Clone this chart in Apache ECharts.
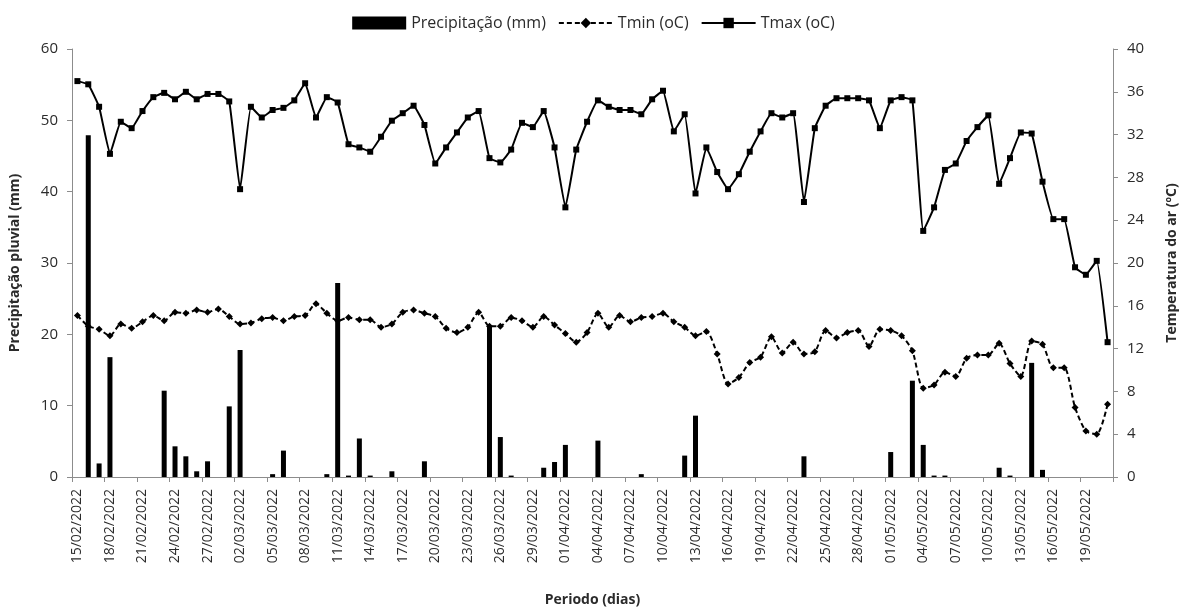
<!DOCTYPE html>
<html>
<head>
<meta charset="utf-8">
<script src="https://cdn.jsdelivr.net/npm/echarts@6/dist/echarts.min.js"></script>
<style>html,body{margin:0;padding:0;background:#fff;}#c{width:1187px;height:613px;}</style>
</head>
<body>
<div id="c"></div>
<script>
const dates = [
"15/02/2022","16/02/2022","17/02/2022","18/02/2022","19/02/2022","20/02/2022","21/02/2022","22/02/2022","23/02/2022","24/02/2022","25/02/2022","26/02/2022","27/02/2022","28/02/2022",
"01/03/2022","02/03/2022","03/03/2022","04/03/2022","05/03/2022","06/03/2022","07/03/2022","08/03/2022","09/03/2022","10/03/2022","11/03/2022","12/03/2022","13/03/2022","14/03/2022","15/03/2022","16/03/2022","17/03/2022","18/03/2022","19/03/2022","20/03/2022","21/03/2022","22/03/2022","23/03/2022","24/03/2022","25/03/2022","26/03/2022","27/03/2022","28/03/2022","29/03/2022","30/03/2022","31/03/2022",
"01/04/2022","02/04/2022","03/04/2022","04/04/2022","05/04/2022","06/04/2022","07/04/2022","08/04/2022","09/04/2022","10/04/2022","11/04/2022","12/04/2022","13/04/2022","14/04/2022","15/04/2022","16/04/2022","17/04/2022","18/04/2022","19/04/2022","20/04/2022","21/04/2022","22/04/2022","23/04/2022","24/04/2022","25/04/2022","26/04/2022","27/04/2022","28/04/2022","29/04/2022","30/04/2022",
"01/05/2022","02/05/2022","03/05/2022","04/05/2022","05/05/2022","06/05/2022","07/05/2022","08/05/2022","09/05/2022","10/05/2022","11/05/2022","12/05/2022","13/05/2022","14/05/2022","15/05/2022","16/05/2022","17/05/2022","18/05/2022","19/05/2022","20/05/2022","21/05/2022"
];

const precip = [
0,47.9,1.9,16.8,0,0,0,0,12.1,4.3,2.9,0.8,2.2,0,9.9,17.8,0,0,0.4,3.7,
0,0,0,0.4,27.2,0.2,5.4,0.2,0,0.8,0,0,2.2,0,0,0,0,0,21.1,5.6,
0.2,0,0,1.3,2.1,4.5,0,0,5.1,0,0,0,0.4,0,0,0,3.0,8.6,0,0,
0,0,0,0,0,0,0,2.9,0,0,0,0,0,0,0,3.5,0,13.5,4.5,0.2,
0.2,0,0,0,0,1.3,0.2,0,16.0,1.0,0,0,0,0,0,0
];

const tmin = [
15.1,14.1,13.8,13.2,14.3,13.9,14.5,15.1,14.6,15.4,15.3,15.6,15.4,15.7,15.0,14.3,14.4,14.8,14.9,14.6,
15.0,15.1,16.2,15.3,14.6,14.9,14.7,14.7,14.0,14.3,15.4,15.6,15.3,15.0,13.9,13.5,14.0,15.4,14.1,14.1,
14.9,14.6,14.0,15.0,14.2,13.4,12.6,13.5,15.3,14.0,15.1,14.5,14.9,15.0,15.3,14.5,14.0,13.2,13.6,11.5,
8.7,9.3,10.7,11.2,13.1,11.6,12.6,11.5,11.7,13.7,13.0,13.5,13.7,12.2,13.8,13.7,13.2,11.8,8.3,8.6,
9.8,9.4,11.1,11.4,11.4,12.5,10.6,9.4,12.7,12.4,10.2,10.2,6.5,4.3,4.0,6.8
];

const tmax = [
37.0,36.7,34.6,30.2,33.2,32.6,34.2,35.5,35.9,35.3,36.0,35.3,35.8,35.8,35.1,26.9,34.6,33.6,34.3,34.5,
35.2,36.8,33.6,35.5,35.0,31.1,30.8,30.4,31.8,33.3,34.0,34.7,32.9,29.3,30.8,32.2,33.6,34.2,29.8,29.4,
30.6,33.1,32.7,34.2,30.8,25.2,30.6,33.2,35.2,34.6,34.3,34.3,33.9,35.3,36.1,32.3,33.9,26.5,30.8,28.5,
26.9,28.3,30.4,32.3,34.0,33.6,34.0,25.7,32.6,34.7,35.4,35.4,35.4,35.2,32.6,35.2,35.5,35.2,23.0,25.2,
28.7,29.3,31.4,32.7,33.8,27.4,29.8,32.2,32.1,27.6,24.1,24.1,19.6,18.9,20.2,12.6
];

const FONT = "'Open Sans', 'Liberation Sans', sans-serif";
const TXT = '#2b2b2b';
const AX = '#8c8c8c';
const chart = echarts.init(document.getElementById('c'), null, {renderer: 'canvas'});
chart.setOption({
  animation: false,
  backgroundColor: '#ffffff',
  textStyle: {fontFamily: FONT},
  legend: {
    top: 10,
    left: 'center',
    itemGap: 12,
    itemWidth: 54,
    itemHeight: 13,
    textStyle: {fontFamily: FONT, fontSize: 16, color: TXT},
    data: [
      {name: 'Precipitação (mm)', icon: 'rect', itemStyle: {color: '#000'}},
      {name: 'Tmin (oC)'},
      {name: 'Tmax (oC)'}
    ]
  },
  grid: {left: 70, right: 70, top: 49, bottom: 136, containLabel: false},
  xAxis: {
    type: 'category',
    data: dates,
    boundaryGap: true,
    name: 'Periodo (dias)',
    nameLocation: 'middle',
    nameGap: 116,
    nameTextStyle: {fontFamily: FONT, fontSize: 14, fontWeight: 'bold', color: TXT},
    axisLine: {lineStyle: {color: AX, width: 1}},
    axisTick: {show: true, interval: 2, length: 5, lineStyle: {color: AX}},
    axisLabel: {interval: 2, rotate: 90, fontSize: 14, color: TXT, fontFamily: FONT, margin: 12}
  },
  yAxis: [
    {
      type: 'value', min: 0, max: 60, interval: 10,
      name: 'Precipitação pluvial (mm)',
      nameLocation: 'middle', nameGap: 50, nameRotate: 90,
      nameTextStyle: {fontFamily: FONT, fontSize: 14, fontWeight: 'bold', color: TXT},
      axisLine: {show: true, lineStyle: {color: AX}},
      axisTick: {show: true, length: 5, lineStyle: {color: AX}},
      splitLine: {show: false},
      axisLabel: {fontSize: 15, color: TXT, fontFamily: FONT, margin: 14}
    },
    {
      type: 'value', min: 0, max: 40, interval: 4, position: 'right',
      name: 'Temperatura do ar (ºC)',
      nameLocation: 'middle', nameGap: 52, nameRotate: 90,
      nameTextStyle: {fontFamily: FONT, fontSize: 14, fontWeight: 'bold', color: TXT},
      axisLine: {show: true, lineStyle: {color: AX}},
      axisTick: {show: true, length: 5, lineStyle: {color: AX}},
      splitLine: {show: false},
      axisLabel: {fontSize: 15, color: TXT, fontFamily: FONT, margin: 14}
    }
  ],
  series: [
    {
      name: 'Precipitação (mm)', type: 'bar', yAxisIndex: 0, data: precip,
      barWidth: 5, itemStyle: {color: '#000'}
    },
    {
      name: 'Tmin (oC)', type: 'line', yAxisIndex: 1, data: tmin,
      smooth: 0.25, symbol: 'diamond', symbolSize: 7,
      lineStyle: {color: '#000', width: 2, type: [5, 3]},
      itemStyle: {color: '#000'}
    },
    {
      name: 'Tmax (oC)', type: 'line', yAxisIndex: 1, data: tmax,
      smooth: 0.1, symbol: 'rect', symbolSize: 6,
      lineStyle: {color: '#000', width: 2},
      itemStyle: {color: '#000'}
    }
  ]
});
</script>
</body>
</html>
